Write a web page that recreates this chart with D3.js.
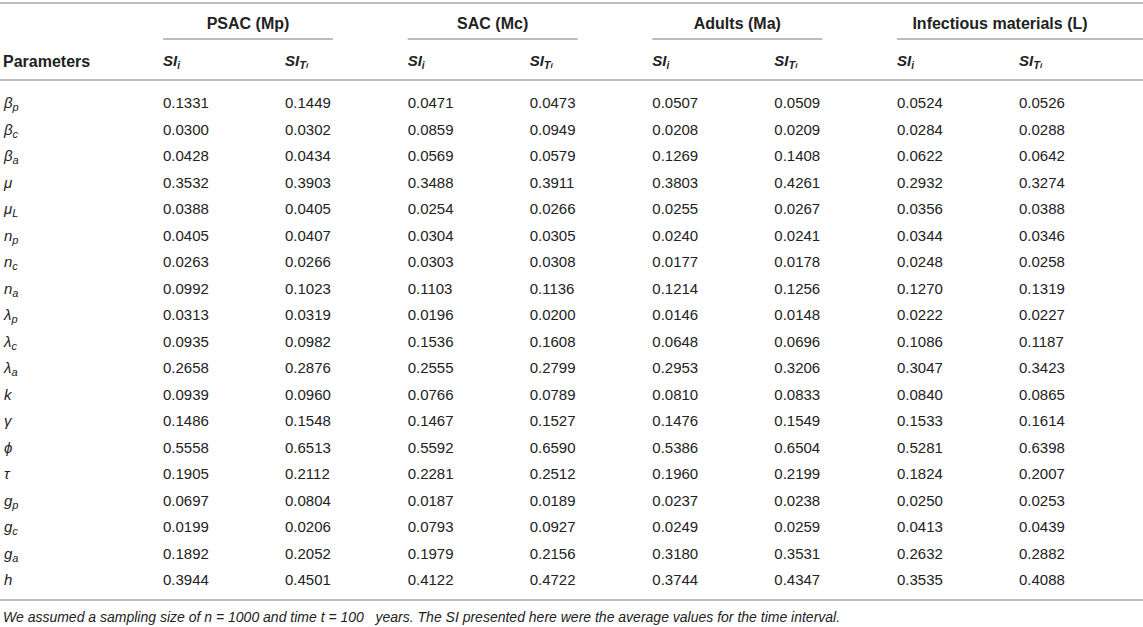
<!DOCTYPE html>
<html>
<head>
<meta charset="utf-8">
<script src="https://cdn.jsdelivr.net/npm/d3@7"></script>
<style>
  body { margin: 0; background: #fff; }
  text { font-family: "Liberation Sans", Arial, sans-serif; fill: #222; }
</style>
</head>
<body>
<svg id="table" width="1143" height="627"></svg>
<script>
// Width and height of the svg
const w = 1143;
const h = 627;

// parameter symbols, base letter + subscript
const paramBase = ["β", "β", "β", "μ", "μ", "n", "n", "n", "λ", "λ", "λ", "k", "γ", "ϕ", "τ", "g", "g", "g", "h"];
const paramSub  = ["p", "c", "a", "", "L", "p", "c", "a", "p", "c", "a", "", "", "", "", "p", "c", "a", ""];

// column groups
const groups = ["PSAC (Mp)", "SAC (Mc)", "Adults (Ma)", "Infectious materials (L)"];

// SI values per group (first order SI_i and total SI_Ti)
const psacSI  = [0.1331, 0.0300, 0.0428, 0.3532, 0.0388, 0.0405, 0.0263, 0.0992, 0.0313, 0.0935, 0.2658, 0.0939, 0.1486, 0.5558, 0.1905, 0.0697, 0.0199, 0.1892, 0.3944];
const psacSIT = [0.1449, 0.0302, 0.0434, 0.3903, 0.0405, 0.0407, 0.0266, 0.1023, 0.0319, 0.0982, 0.2876, 0.0960, 0.1548, 0.6513, 0.2112, 0.0804, 0.0206, 0.2052, 0.4501];
const sacSI   = [0.0471, 0.0859, 0.0569, 0.3488, 0.0254, 0.0304, 0.0303, 0.1103, 0.0196, 0.1536, 0.2555, 0.0766, 0.1467, 0.5592, 0.2281, 0.0187, 0.0793, 0.1979, 0.4122];
const sacSIT  = [0.0473, 0.0949, 0.0579, 0.3911, 0.0266, 0.0305, 0.0308, 0.1136, 0.0200, 0.1608, 0.2799, 0.0789, 0.1527, 0.6590, 0.2512, 0.0189, 0.0927, 0.2156, 0.4722];
const adSI    = [0.0507, 0.0208, 0.1269, 0.3803, 0.0255, 0.0240, 0.0177, 0.1214, 0.0146, 0.0648, 0.2953, 0.0810, 0.1476, 0.5386, 0.1960, 0.0237, 0.0249, 0.3180, 0.3744];
const adSIT   = [0.0509, 0.0209, 0.1408, 0.4261, 0.0267, 0.0241, 0.0178, 0.1256, 0.0148, 0.0696, 0.3206, 0.0833, 0.1549, 0.6504, 0.2199, 0.0238, 0.0259, 0.3531, 0.4347];
const infSI   = [0.0524, 0.0284, 0.0622, 0.2932, 0.0356, 0.0344, 0.0248, 0.1270, 0.0222, 0.1086, 0.3047, 0.0840, 0.1533, 0.5281, 0.1824, 0.0250, 0.0413, 0.2632, 0.3535];
const infSIT  = [0.0526, 0.0288, 0.0642, 0.3274, 0.0388, 0.0346, 0.0258, 0.1319, 0.0227, 0.1187, 0.3423, 0.0865, 0.1614, 0.6398, 0.2007, 0.0253, 0.0439, 0.2882, 0.4088];

const footnote = ["We assumed a sampling size of ", "n", " = 1000 and time ", "t", " = 100   years. The SI presented here were the average values for the time interval."];

// builds one table from the arrays above
const columns = [[psacSI, psacSIT], [sacSI, sacSIT], [adSI, adSIT], [infSI, infSIT]];
const rows = paramBase.map((b, i) => ({ base: b, sub: paramSub[i], i: i }));

const svg = d3.select("#table");

// group position (left edge of the first number column)
const xGroup = d3.scalePoint().domain(groups).range([163, 897]);
const colGap = 122;
// row positions
const y = d3.scaleBand().domain(d3.range(rows.length)).range([89.7, 593.3]);
const yMid = i => y(i) + y.bandwidth() / 2;

const lineColor = "#bdbdbd";

// horizontal rules
function rule(x1, x2, yy) {
    svg.append("line")
        .attr("x1", x1).attr("x2", x2)
        .attr("y1", yy).attr("y2", yy)
        .attr("stroke", lineColor)
        .attr("stroke-width", 2);
}
rule(0, w, 3);
rule(0, w, 80);
rule(0, w, 600);

// group headers and their underlines
groups.forEach((g, gi) => {
    const x0 = xGroup(g);
    const x1 = gi === groups.length - 1 ? w : x0 + 170;
    rule(x0, x1, 39);
    svg.append("text")
        .attr("x", gi === groups.length - 1 ? x0 + 103 : (x0 + x1) / 2)
        .attr("y", 23)
        .attr("dy", "0.35em")
        .attr("text-anchor", "middle")
        .style("font-weight", "bold")
        .style("font-size", "16px")
        .text(g);

    // SI_i and SI_Ti sub headers
    const si = svg.append("text")
        .attr("x", x0).attr("y", 61).attr("dy", "0.35em")
        .style("font-weight", "bold").style("font-style", "italic").style("font-size", "15px");
    si.append("tspan").text("SI");
    si.append("tspan").attr("baseline-shift", "-25%").style("font-size", "10px").text("i");

    const sit = svg.append("text")
        .attr("x", x0 + colGap).attr("y", 61).attr("dy", "0.35em")
        .style("font-weight", "bold").style("font-style", "italic").style("font-size", "15px");
    sit.append("tspan").text("SI");
    sit.append("tspan").attr("baseline-shift", "-25%").style("font-size", "11px").text("T");
    sit.append("tspan").attr("baseline-shift", "-25%").style("font-size", "8px").text("i");
});

svg.append("text")
    .attr("x", 3).attr("y", 61).attr("dy", "0.35em")
    .style("font-weight", "bold").style("font-size", "16px")
    .text("Parameters");

// parameter labels
const labels = svg.selectAll(".param")
    .data(rows)
    .enter()
    .append("text")
    .attr("class", "param")
    .attr("x", 4)
    .attr("y", d => yMid(d.i))
    .attr("dy", "0.35em")
    .style("font-style", "italic")
    .style("font-size", "15px");
labels.append("tspan").text(d => d.base);
labels.append("tspan")
    .attr("baseline-shift", "-25%")
    .style("font-size", "11px")
    .text(d => d.sub);

// the values
columns.forEach((pair, gi) => {
    pair.forEach((vals, ci) => {
        svg.selectAll(null)
            .data(vals)
            .enter()
            .append("text")
            .attr("x", xGroup(groups[gi]) + ci * colGap)
            .attr("y", (d, i) => yMid(i))
            .attr("dy", "0.35em")
            .style("font-size", "15px")
            .text(d => d3.format(".4f")(d));
    });
});

// footnote
const note = svg.append("text")
    .attr("x", 3).attr("y", 617).attr("dy", "0.35em")
    .attr("xml:space", "preserve")
    .style("white-space", "pre")
    .style("font-style", "italic")
    .style("font-size", "14px");
note.selectAll("tspan")
    .data(footnote)
    .enter()
    .append("tspan")
    .text(d => d);
</script>
</body>
</html>
